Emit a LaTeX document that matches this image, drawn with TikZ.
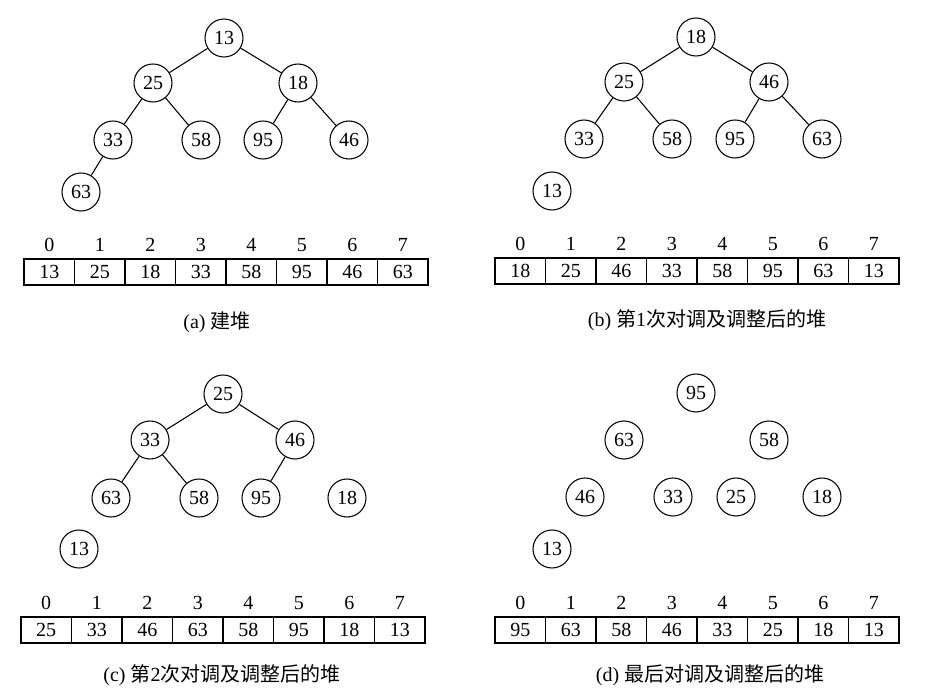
\documentclass[tikz,border=0pt]{standalone}
\usepackage{fontspec}
\setmainfont{Liberation Serif}
\newfontfamily\cjk{Noto Sans CJK SC}

% one row of the array: #1 prefix, #2 left x, #3 top y, #4 values
\newcommand{\heaprow}[4]{%
	\foreach \v [count = \i from 0] in {#4}
	{
		\node [cell] (#1c\i) at ({#2 + 25.25 + 50.5*\i}, {#3 + 13}) {\v};
		\node [idx] (#1i\i) at ({#2 + 25.25 + 50.5*\i}, {#3 - 14}) {\i};
	}
}

\begin{document}
\begin{tikzpicture}
[
	x 				= 0.75pt,
	y 				= -0.75pt,
	every node/.style	= {font = \fontsize{15}{17}\selectfont},
	key/.style 			=
	{
		circle,
		draw,
		line width 		= 0.8pt,
		minimum size 	= 28.5pt,
		inner sep 		= 0pt
	},
	cell/.style 		=
	{
		draw,
		line width 		= 0.8pt,
		minimum width 	= 37.9pt,
		minimum height 	= 19.5pt,
		inner sep 		= 0pt
	},
	idx/.style 			= {inner sep = 0pt},
	caption/.style 		= {inner sep = 0pt},
	link/.style 		= {line width = 0.8pt},
]

\useasboundingbox (0,0) rectangle (929,698);

% (a) build the heap
\node [key] (a13) at (224,38)  {13};
\node [key] (a25) at (153,83)  {25};
\node [key] (a18) at (298,83)  {18};
\node [key] (a33) at (113,140) {33};
\node [key] (a58) at (201,140) {58};
\node [key] (a95) at (263,140) {95};
\node [key] (a46) at (349,140) {46};
\node [key] (a63) at (81,192)  {63};

\draw [link] (a13) -- (a25);
\draw [link] (a13) -- (a18);
\draw [link] (a25) -- (a33);
\draw [link] (a25) -- (a58);
\draw [link] (a18) -- (a95);
\draw [link] (a18) -- (a46);
\draw [link] (a33) -- (a63);

\heaprow{a}{24}{259}{13,25,18,33,58,95,46,63}
\node [caption] (acap) at (217,322) {(a) {\cjk 建堆}};

% (b) first swap
\node [key] (b18) at (696,37)  {18};
\node [key] (b25) at (624,82)  {25};
\node [key] (b46) at (769,82)  {46};
\node [key] (b33) at (584,139) {33};
\node [key] (b58) at (672,139) {58};
\node [key] (b95) at (735,139) {95};
\node [key] (b63) at (822,139) {63};
\node [key] (b13) at (552,191) {13};

\draw [link] (b18) -- (b25);
\draw [link] (b18) -- (b46);
\draw [link] (b25) -- (b33);
\draw [link] (b25) -- (b58);
\draw [link] (b46) -- (b95);
\draw [link] (b46) -- (b63);

\heaprow{b}{495}{258}{18,25,46,33,58,95,63,13}
\node [caption] (bcap) at (707,320) {(b) {\cjk 第}1{\cjk 次对调及调整后的堆}};

% (c) second swap
\node [key] (c25) at (223,394) {25};
\node [key] (c33) at (150,440) {33};
\node [key] (c46) at (295,440) {46};
\node [key] (c63) at (111,498) {63};
\node [key] (c58) at (199,498) {58};
\node [key] (c95) at (261,498) {95};
\node [key] (c18) at (347,498) {18};
\node [key] (c13) at (79,549)  {13};

\draw [link] (c25) -- (c33);
\draw [link] (c25) -- (c46);
\draw [link] (c33) -- (c63);
\draw [link] (c33) -- (c58);
\draw [link] (c46) -- (c95);

\heaprow{c}{21}{617}{25,33,46,63,58,95,18,13}
\node [caption] (ccap) at (222,675) {(c) {\cjk 第}2{\cjk 次对调及调整后的堆}};

% (d) last swap, no links left
\node [key] (d95) at (696,393) {95};
\node [key] (d63) at (624,440) {63};
\node [key] (d58) at (769,440) {58};
\node [key] (d46) at (585,497) {46};
\node [key] (d33) at (673,497) {33};
\node [key] (d25) at (736,497) {25};
\node [key] (d18) at (822,497) {18};
\node [key] (d13) at (552,549) {13};

\heaprow{d}{495}{617}{95,63,58,46,33,25,18,13}
\node [caption] (dcap) at (710,675) {(d) {\cjk 最后对调及调整后的堆}};

\end{tikzpicture}
\end{document}
